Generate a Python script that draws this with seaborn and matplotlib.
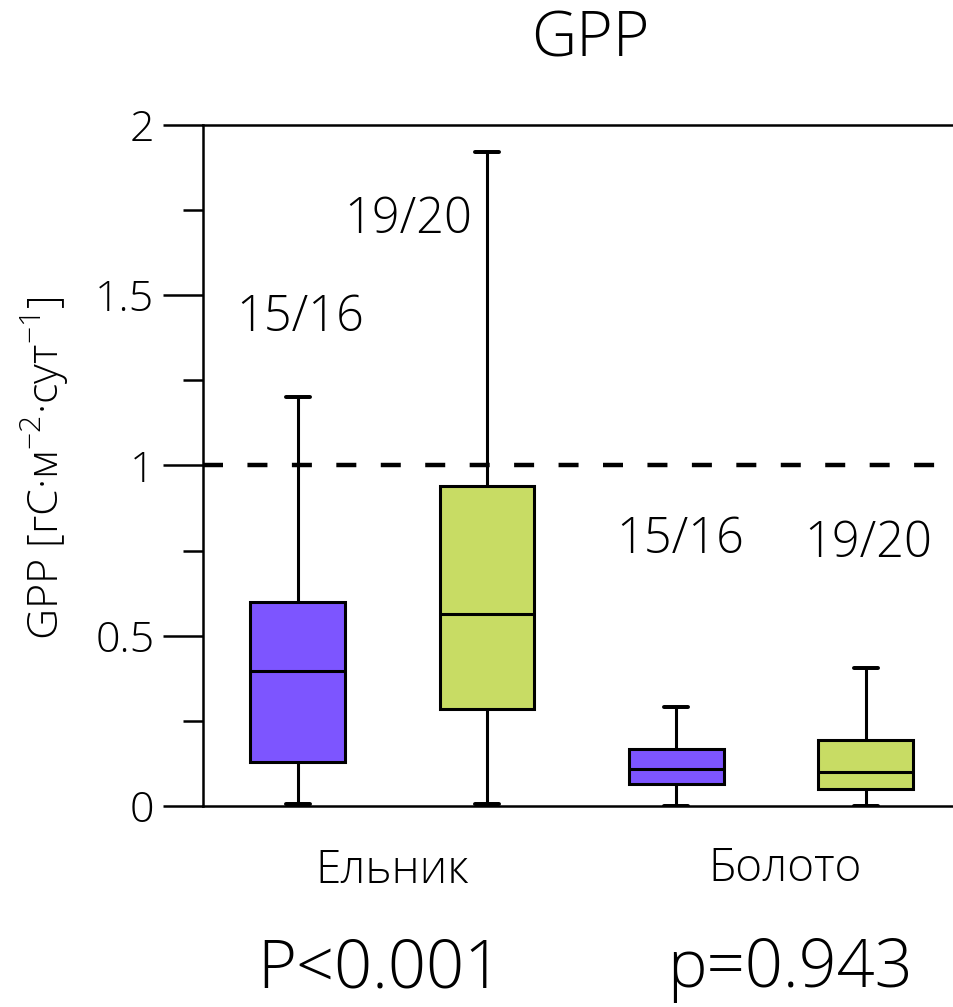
import numpy as np
import pandas as pd
import seaborn as sns
import matplotlib.pyplot as plt
import matplotlib.transforms as mtransforms
from matplotlib import font_manager

# Five-number summaries (min, Q1, median, Q3, max) of daily GPP
sites = ["Ельник", "Болото"]
periods = ["15/16", "19/20"]
elnik_1516 = [0.005, 0.130, 0.396, 0.599, 1.201]
elnik_1920 = [0.005, 0.285, 0.564, 0.940, 1.921]
boloto_1516 = [0.000, 0.065, 0.108, 0.167, 0.291]
boloto_1920 = [0.000, 0.050, 0.100, 0.194, 0.406]
p_values = ["P<0.001", "p=0.943"]
threshold = 1.0

sns.set_theme(style="white")
names = {f.name for f in font_manager.fontManager.ttflist}
family = [f for f in ["Open Sans", "Lato", "DejaVu Sans"] if f in names]
plt.rcParams["font.family"] = family
plt.rcParams["font.weight"] = "light"
plt.rcParams["text.color"] = "black"
plt.rcParams["xtick.color"] = "black"
plt.rcParams["ytick.color"] = "black"
plt.rcParams["mathtext.fontset"] = "custom"
plt.rcParams["mathtext.rm"] = family[0] + ":light"
plt.rcParams["mathtext.it"] = family[0] + ":light"

groups = [("Ельник", "15/16", elnik_1516), ("Ельник", "19/20", elnik_1920),
          ("Болото", "15/16", boloto_1516), ("Болото", "19/20", boloto_1920)]
rows = [{"site": s, "period": p, "gpp": v} for s, p, vals in groups for v in vals]
df = pd.DataFrame(rows)

fig = plt.figure(figsize=(9.54, 10.07), dpi=100)
ax = fig.add_axes([0.2128, 0.1996, 0.7872, 0.6763])

palette = {"15/16": "#7D55FF", "19/20": "#C8DC64"}
lw = 2.2
sns.boxplot(data=df, x="site", y="gpp", hue="period", order=sites,
            hue_order=periods, palette=palette, width=1.0, gap=0.5,
            whis=np.inf, linewidth=lw, linecolor="black", saturation=1,
            capwidths=0.063, legend=False, ax=ax,
            medianprops={"color": "black", "linewidth": lw},
            whiskerprops={"color": "black", "linewidth": lw},
            capprops={"color": "black", "linewidth": lw * 1.3},
            boxprops={"edgecolor": "black", "linewidth": lw})

ax.axhline(threshold, color="black", linewidth=3.2, dashes=(4.5, 5.5), zorder=5)

ax.set_ylim(0, 2)
ax.set_xlim(-0.5, 1.483)
ax.set_yticks([0, 0.5, 1, 1.5, 2])
ax.set_yticklabels(["0", "0.5", "1", "1.5", "2"])
ax.set_yticks([0.25, 0.75, 1.25, 1.75], minor=True)
ax.tick_params(axis="y", which="major", length=29, width=1.8, direction="out",
               left=True, labelsize=31, pad=6, color="black")
ax.tick_params(axis="y", which="minor", length=14.5, width=1.8, direction="out",
               left=True, color="black")
ax.tick_params(axis="x", length=0, labelsize=33, pad=30)
for lab in ax.get_yticklabels() + ax.get_xticklabels():
    lab.set_fontweight("light")

# Nudge the second site label slightly to the right
xlabels = ax.get_xticklabels()
shift = mtransforms.ScaledTranslation(14 / 100, 2 / 100, fig.dpi_scale_trans)
xlabels[1].set_transform(xlabels[1].get_transform() + shift)

for side in ["left", "top", "bottom"]:
    ax.spines[side].set_visible(True)
    ax.spines[side].set_color("black")
    ax.spines[side].set_linewidth(1.8)
ax.spines["right"].set_visible(False)
ax.set_xlabel("")
ax.set_ylabel("")

# Period labels above the boxes
labels = [(-0.243, 1.433, "15/16"), (0.042, 1.72, "19/20"),
          (0.76, 0.78, "15/16"), (1.256, 0.77, "19/20")]
for x, y, t in labels:
    ax.text(x, y, t, ha="center", va="center", fontsize=35, fontweight="light")

fig.text(590 / 954, 1 - 40 / 1007, "GPP", ha="center", va="center",
         fontsize=45, fontweight="light")
fig.text(45 / 954, 1 - 468 / 1007, "GPP [гС·м$^{-2}$·сут$^{-1}$]", rotation=90,
         ha="center", va="center", fontsize=31, fontweight="light")
fig.text(380 / 954, 1 - 970 / 1007, p_values[0], ha="center", va="center",
         fontsize=48, fontweight="light")
fig.text(790 / 954, 1 - 970 / 1007, p_values[1], ha="center", va="center",
         fontsize=48, fontweight="light")

fig.savefig("out.png", dpi=100, facecolor="white")
